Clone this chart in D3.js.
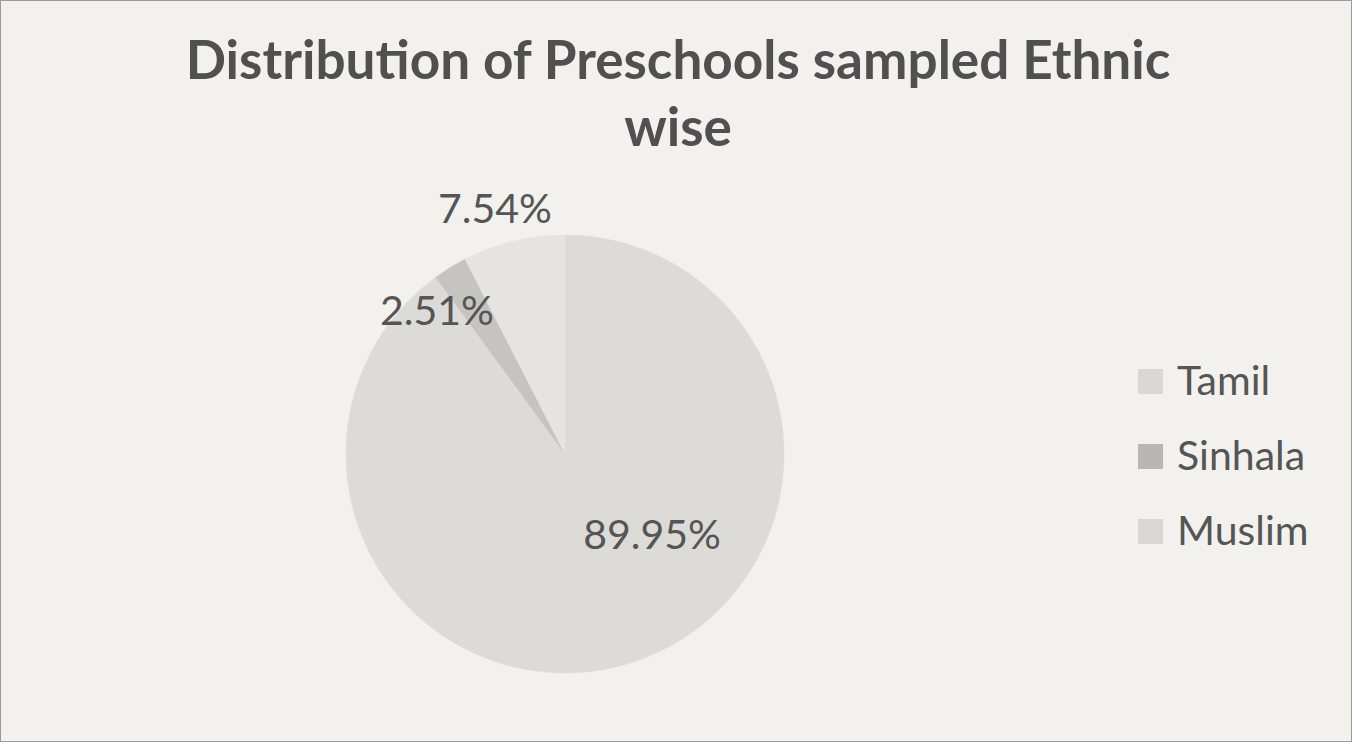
<!DOCTYPE html>
<html>
<head>
<meta charset="utf-8">
<script src="https://cdn.jsdelivr.net/npm/d3@7"></script>
<style>
  body { margin: 0; background: #f2f1ed; }
  svg { display: block; }
</style>
</head>
<body>
<div id="chart"></div>
<script>
// Data
const categories = ["Tamil", "Sinhala", "Muslim"];
const shares = [89.95, 2.51, 7.54];
const sliceColors = ["#dddbd7", "#c6c4c0", "#e6e4e0"];
const swatchColors = ["#dad8d4", "#b9b7b3", "#d9d7d3"];
const titleLines = ["Distribution of Preschools sampled Ethnic", "wise"];

const width = 1352;
const height = 742;

const svg = d3.select("#chart").append("svg")
    .attr("width", width)
    .attr("height", height);

// background + thin frame
svg.append("rect")
    .attr("x", 0.5).attr("y", 0.5)
    .attr("width", width - 1).attr("height", height - 1)
    .attr("fill", "#f2f1ed")
    .attr("stroke", "#9a9a98");

// Title
const title = svg.append("text")
    .attr("text-anchor", "middle")
    .attr("font-family", "Lato, 'Open Sans', sans-serif")
    .attr("font-weight", "bold")
    .attr("font-size", 44)
    .attr("fill", "#505050");

title.selectAll("tspan")
    .data(titleLines)
    .enter().append("tspan")
    .attr("x", 678)
    .attr("y", (d, i) => 79 + i * 67)
    .text(d => d);

// fit title so the first line spans like the reference
const firstLine = title.select("tspan").node();
const w = firstLine.getComputedTextLength();
title.attr("font-size", 44 * 985 / w);

// Pie
const cx = 565, cy = 454, r = 219;
const g = svg.append("g").attr("transform", `translate(${cx},${cy})`);

const pie = d3.pie().sort(null).value(d => d.value);
const arcs = pie(categories.map((c, i) => ({ name: c, value: shares[i], i })));
const arc = d3.arc().innerRadius(0).outerRadius(r);

g.selectAll("path")
    .data(arcs)
    .enter().append("path")
    .attr("d", arc)
    .attr("fill", d => sliceColors[d.data.i])
    .attr("stroke", d => sliceColors[d.data.i])
    .attr("stroke-width", 0.5);

// Data labels, placed the way Excel's best fit put them
const labelOffset = [[87, 81], [-128, -143], [-70, -245]];

g.selectAll(".lbl")
    .data(arcs)
    .enter().append("text")
    .attr("class", "lbl")
    .attr("text-anchor", "middle")
    .attr("font-family", "Lato, 'Open Sans', sans-serif")
    .attr("font-size", 41)
    .attr("fill", "#555555")
    .attr("x", d => labelOffset[d.data.i][0])
    .attr("y", d => labelOffset[d.data.i][1])
    .attr("dy", "0.35em")
    .text(d => d3.format(".2f")(d.data.value) + "%");

// Legend
const legend = svg.append("g").attr("transform", "translate(1138,381)");
const item = legend.selectAll("g")
    .data(categories)
    .enter().append("g")
    .attr("transform", (d, i) => `translate(0,${i * 75})`);

item.append("rect")
    .attr("x", 0).attr("y", -12)
    .attr("width", 25).attr("height", 25)
    .attr("fill", (d, i) => swatchColors[i]);

item.append("text")
    .attr("x", 39)
    .attr("dy", "0.35em")
    .attr("font-family", "Lato, 'Open Sans', sans-serif")
    .attr("font-size", 41)
    .attr("fill", "#555555")
    .text(d => d);
</script>
</body>
</html>
